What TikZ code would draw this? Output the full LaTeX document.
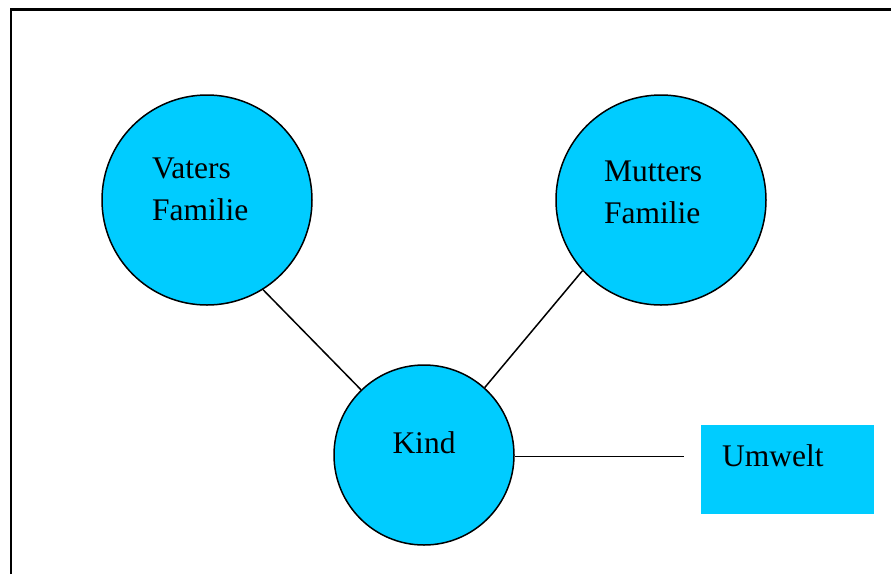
\documentclass[tikz,border=0pt]{standalone}
\usepackage{fontspec}
\setmainfont{Liberation Serif}
\usepackage{tikz}
\definecolor{famcyan}{RGB}{0,204,255}

\begin{document}
\begin{tikzpicture}[x=1pt,y=-1pt,
  fam/.style={circle,draw,fill=famcyan,line width=1.5pt,inner sep=0pt},
  envbox/.style={rectangle,fill=famcyan,inner sep=0pt,minimum width=173pt,minimum height=89pt},
  lbl/.style={inner sep=0pt,font=\fontsize{31.5}{42}\selectfont,align=left},
  link/.style={line width=1.5pt}]
\useasboundingbox (0,0) rectangle (891,574);
\draw [line width=2.2pt] (11,574) -- (11,9.5) -- (891,9.5);

\node [fam,minimum size=210pt] (vat) at (207,200) {};
\node [fam,minimum size=210pt] (mut) at (661,200) {};
\node [fam,minimum size=180pt] (kind) at (424,455) {};
\node [envbox] (umw) at (787.5,469.5) {};

\node [lbl,anchor=north west] (vattxt) at (152,158) {Vaters\\Familie};
\node [lbl,anchor=north west] (muttxt) at (604,161) {Mutters\\Familie};
\node [lbl,anchor=base] (kindtxt) at (424,453) {Kind};
\node [lbl,anchor=base west] (umwtxt) at (722,466) {Umwelt};

\draw [link] (vat.-58) -- (kind.134);
\draw [link] (mut.222) -- (kind.48);
\draw [link,shorten >=17pt] (kind.-1) -- (kind.-1 -| umw.west);
\end{tikzpicture}
\end{document}
